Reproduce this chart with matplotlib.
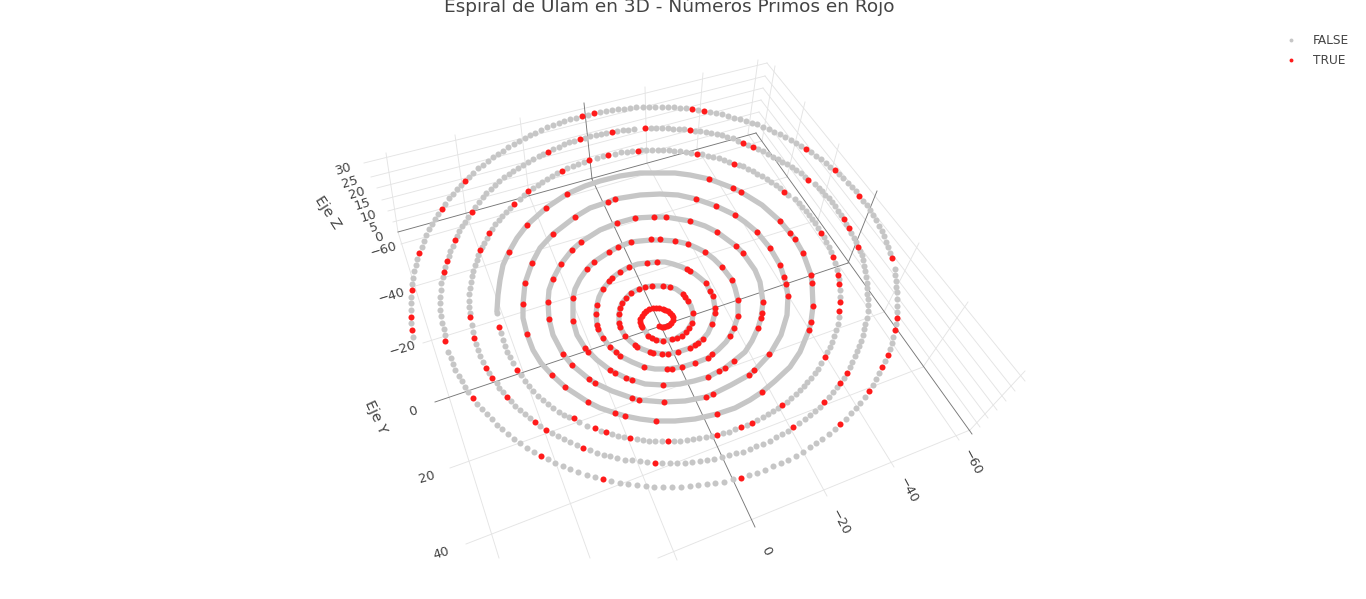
import numpy as np
import matplotlib
matplotlib.use("Agg")
import matplotlib.pyplot as plt
from matplotlib.lines import Line2D

plt.rcParams['font.family'] = ['DejaVu Sans']

# all values, as projected positions of the 3D view

# FALSE points, the outer turns where single dots can be seen
false_turn_c = [(497,313),(501,333),(503,340),(505,346),(507,352),(510,357),(513,363),(521,375),(525,381),(529,386),(533,391),(538,396),(543,400),(548,404),(553,408),(559,412),(564,415),(569,417),(579,422),(587,426),(601,431),(612,434),(618,436),(624,437),(637,439),(643,440),(649,441),(655,441),(662,441),(674,441),(680,441),(687,440),(693,439),(699,438),(706,437),(712,436),(723,433),(729,432),(735,429),(747,425),(757,420),(763,417),(768,414),(773,411),(778,408),(787,402),(791,398),(796,394),(800,390),(804,386),(807,382),(811,378),(815,373),(818,369),(821,363),(827,352),(830,347),(832,342),(834,336),(836,330),(838,324),(839,317),(840,297),(840,290),(839,279),(837,270),(835,263),(831,252),(829,247),(826,242),(824,237),(818,228),(815,223),(812,219),(809,215),(806,211),(802,207),(799,203),(795,199),(788,195),(780,188),(776,185),(771,182),(767,179),(762,176),(757,174),(753,171),(748,169),(743,166),(739,165),(729,162),(724,160),(719,158),(713,157),(708,156),(702,154),(691,153),(686,152),(680,151),(674,151),(669,150),(663,150),(658,150),(652,150),(646,150),(641,150),(632,151),(627,152),(621,152),(615,154),(603,156),(597,158),(584,162),(578,164),(573,166),(567,168),(557,173),(552,176),(547,179),(542,182),(538,185),(533,188),(524,195),(520,199),(510,208),(506,212),(502,216),(499,220),(495,224),(492,229),(487,238),(484,243),(482,247),(478,255),(477,260),(475,265),(473,271),(472,276),(471,282),(470,288),(469,294),(469,301),(469,307),(470,313)]
false_turn_b = [(472,325),(473,332),(476,344),(478,350),(480,356),(483,362),(489,373),(497,383),(499,388),(503,392),(511,401),(515,406),(520,410),(525,414),(530,418),(540,426),(552,433),(558,436),(564,439),(570,442),(577,445),(590,450),(597,453),(604,455),(610,456),(617,458),(625,460),(632,460),(640,461),(647,462),(662,463),(670,463),(677,463),(685,463),(692,462),(700,461),(707,460),(714,459),(722,457),(729,455),(736,453),(743,452),(750,449),(756,446),(763,444),(770,441),(776,437),(782,434),(788,431),(799,423),(805,419),(810,415),(815,411),(820,407),(829,397),(833,392),(837,387),(844,378),(850,367),(852,362),(855,356),(857,351),(859,346),(861,341),(863,335),(864,329),(865,324),(867,318),(868,311),(868,305),(868,299),(867,294),(867,288),(867,283),(866,277),(865,271),(864,266),(863,260),(862,255),(860,251),(856,242),(854,238),(851,233),(846,224),(841,215),(838,211),(835,206),(832,202),(829,198),(825,195),(822,191),(819,188),(815,184),(805,177),(801,173),(796,170),(792,167),(787,164),(782,162),(778,159),(773,157),(768,154),(763,151),(758,149),(748,145),(738,141),(733,138),(727,137),(722,135),(717,134),(711,133),(706,132),(700,131),(695,131),(684,129),(679,129),(673,129),(668,128),(662,128),(656,128),(651,128),(634,129),(628,130),(623,130),(617,131),(606,133),(601,134),(596,135),(590,136),(585,138),(574,141),(569,142),(564,144),(559,147),(553,149),(543,154),(539,156),(533,159),(528,162),(523,165),(518,168),(513,171),(509,174),(504,177),(499,181),(495,185),(491,189),(486,193),(483,197),(479,202),(475,207),(468,217),(465,222),(462,226),(459,231),(457,236),(453,246),(450,251),(449,256),(445,267),(443,277),(441,283),(441,290),(440,297),(440,303)]
false_turn_a = [(440,310),(441,316),(442,323),(444,329),(445,335),(448,352),(451,358),(453,364),(455,370),(459,376),(462,381),(465,387),(468,392),(477,404),(482,409),(487,414),(492,419),(497,425),(502,429),(508,434),(514,439),(520,443),(527,448),(534,452),(548,459),(555,463),(563,466),(570,469),(578,472),(587,475),(595,477),(611,481),(620,483),(628,484),(637,485),(646,486),(654,487),(663,487),(672,487),(681,487),(690,486),(698,485),(707,484),(715,483),(724,482),(733,479),(749,475),(757,473),(765,470),(773,466),(781,463),(788,460),(796,456),(803,452),(810,447),(816,443),(822,439),(829,434),(835,429),(846,419),(851,413),(856,408),(860,403),(865,397),(873,385),(876,379),(879,373),(885,361),(890,349),(892,343),(893,337),(896,324),(897,312),(897,306),(897,299),(897,292),(896,287),(896,281),(895,275),(895,269),(890,253),(888,247),(886,242),(884,236),(882,231),(879,226),(876,220),(873,215),(870,210),(867,205),(863,201),(856,191),(852,187),(848,183),(843,178),(839,174),(830,167),(826,163),(821,159),(816,156),(811,152),(801,146),(796,143),(791,140),(785,137),(780,134),(774,132),(769,129),(763,127),(757,124),(752,123),(746,121),(740,119),(734,118),(728,116),(722,114),(716,113),(710,112),(698,110),(686,108),(680,108),(674,107),(668,107),(662,107),(655,107),(649,107),(643,107),(636,107),(630,108),(624,109),(618,109),(612,110),(606,111),(600,112),(588,115),(576,118),(570,119),(564,121),(559,123),(553,125),(547,127),(541,130),(535,133),(530,135),(525,138),(519,141),(514,144),(508,147),(503,151),(498,154),(493,157),(488,161),(483,165),(478,168),(473,173),(469,177),(461,185),(457,189),(453,194),(449,198),(445,204),(438,214),(435,219),(432,224),(429,229),(426,235),(424,241),(422,247),(417,259),(416,265),(414,271),(413,278),(412,284),(411,297),(411,303),(411,310),(411,323),(413,337)]

# FALSE points of the inner turns, so close together they make one band
false_inner = [(642,327),(646,332),(648,336),(652,338),(656,340),(663,341),(675,339),(686,332),(692,323),(693,313),(691,306),(688,301),(683,294),(676,289),(670,287),(663,286),(652,286),(645,287),(639,289),(631,293),(626,298),(622,303),(620,308),(619,314),(619,323),(620,327),(625,336),(630,341),(635,345),(642,349),(650,352),(662,354),(668,354),(678,352),(690,348),(698,343),(703,339),(708,333),(712,324),(715,313),(715,308),(713,296),(710,291),(706,283),(700,278),(695,274),(690,271),(682,267),(673,264),(665,262),(657,262),(647,263),(638,264),(629,267),(620,272),(612,278),(603,289),(599,297),(597,305),(596,314),(597,325),(598,329),(603,338),(610,347),(616,352),(620,356),(632,362),(644,367),(655,369),(667,369),(682,367),(695,363),(708,358),(718,350),(726,342),(730,336),(734,328),(738,316),(738,300),(735,288),(732,280),(722,267),(714,259),(705,252),(697,248),(688,244),(675,241),(660,240),(651,240),(640,241),(631,242),(618,247),(609,252),(594,262),(587,269),(580,279),(575,289),(573,298),(573,310),(573,321),(577,335),(585,348),(597,360),(610,370),(626,378),(645,384),(663,385),(680,384),(694,381),(708,377),(725,368),(734,361),(745,352),(752,341),(758,328),(761,318),(763,302),(760,282),(755,270),(743,253),(736,246),(717,232),(705,226),(690,221),(666,217),(654,217),(635,218),(617,223),(600,230),(581,242),(572,250),(561,264),(553,279),(549,290),(548,302),(549,319),(553,335),(563,354),(572,365),(589,379),(595,383),(612,391),(632,398),(639,400),(664,402),(685,401),(706,397),(713,394),(731,385),(749,375),(755,370),(770,354),(781,335),(787,315),(788,296),(786,284),(784,277),(780,265),(770,248),(757,232),(745,222),(735,215),(716,206),(696,199),(678,195),(660,194),(640,195),(615,199),(608,202),(590,208),(575,217),(553,234),(540,248),(532,263),(525,283),(523,304),(523,318),(527,334),(533,350),(541,363),(552,375),(565,387),(588,402),(600,408),(615,413),(625,416),(640,419),(656,421),(675,421),(695,419),(717,414),(735,408),(750,400),(762,392),(775,381),(790,367),(800,352),(809,330),(811,322),(813,306),(812,283),(811,275),(803,253),(795,239),(790,233),(780,221),(762,205),(741,192),(733,188),(709,179),(690,175),(675,173),(660,173),(640,173),(620,176),(600,181),(585,186),(567,194),(546,208),(527,225),(517,238),(509,252),(503,265),(500,280),(498,295),(497,310)]

# TRUE points
true_center = [(659,326),(662,327),(664,327),(667,326),(669,325),(671,323),(673,320),(673,317),(672,315),(670,313),(668,311),(665,310),(663,309),(659,308),(656,308),(653,308),(649,309),(646,311),(644,313),(642,316),(640,319),(640,322),(641,325),(642,327)]
true_middle = [(648,336),(652,338),(656,340),(663,341),(672,339),(677,338),(682,336),(686,332),(689,328),(692,323),(693,313),(688,301),(685,297),(683,294),(670,287),(663,286),(652,286),(645,287),(639,289),(631,293),(626,298),(622,303),(620,308),(619,314),(619,323),(620,327),(625,336),(635,345),(637,347),(650,352),(653,353),(662,354),(668,354),(678,352),(690,348),(695,345),(698,343),(703,339),(712,324),(715,313),(715,308),(713,296),(710,291),(706,283),(690,271),(687,269),(657,262),(647,263),(629,267),(620,272),(612,278),(609,281),(603,289),(597,305),(596,314),(597,325),(598,329),(603,338),(610,347),(616,352),(620,356),(644,367),(667,369),(672,369),(682,367),(695,363),(708,358),(712,354),(730,336),(734,328),(738,316),(738,300),(732,280),(722,267),(705,252),(688,244),(675,241),(660,239),(651,239),(631,242),(618,247),(609,252),(594,262),(587,269),(573,298),(573,321),(585,348),(588,352),(610,370),(615,373),(626,378),(632,380),(663,385),(708,377),(719,371),(725,368),(734,361),(758,328),(761,318),(762,313),(763,302),(743,253),(736,246),(717,232),(690,221),(666,217),(654,217),(635,218),(617,223),(581,242),(572,250),(561,264),(553,279),(548,302),(549,319),(563,354),(572,365),(589,379),(595,383),(632,398),(639,400),(664,402),(706,397),(713,394),(749,375),(754,370),(762,392),(769,354),(780,265),(770,248),(757,232),(735,215),(575,217),(553,234),(552,375),(565,387),(588,402)]
true_outer = [(582,116),(594,113),(465,181),(442,209),(419,253),(412,290),(411,317),(580,139),(612,132),(548,152),(472,212),(455,240),(447,261),(444,272),(470,317),(589,160),(608,155),(638,151),(562,171),(528,191),(514,204),(489,233),(480,250),(509,252),(532,263),(525,283),(523,304),(567,194),(546,208),(527,225),(608,202),(615,199),(692,109),(704,111),(806,149),(835,170),(859,196),(892,258),(897,318),(645,128),(690,130),(743,143),(753,147),(808,180),(844,219),(849,228),(858,247),(697,154),(734,164),(784,192),(821,233),(833,257),(838,275),(839,284),(840,302),(839,311),(709,179),(733,188),(741,192),(780,221),(790,233),(795,239),(803,253),(811,275),(812,283),(813,306),(696,199),(716,206),(784,277),(786,284),(788,296),(895,330),(888,355),(882,367),(869,391),(840,424),(741,478),(811,322),(809,330),(825,357),(847,373),(840,383),(824,402),(793,427),(782,405),(717,414),(752,423),(741,427),(717,435),(412,330),(445,341),(474,338),(486,368),(492,378),(473,398),(507,397),(499,327),(527,334),(517,370),(535,422),(546,430),(541,456),(603,479),(583,448),(655,463),(574,418),(595,428),(606,432),(630,438),(668,441),(615,413),(625,416),(656,421)]

# box edges and zero lines
dark_lines = [((398,232),(756,133)),((756,133),(972,434)),((584,103),(592,179)),((592,179),(755,527)),((435,402),(848,263)),((848,263),(877,191))]

# grid on the floor and the two walls
floor_x_lines = [((398,232),(499,558)),((466,213),(590,558)),((529,195),(677,560)),((647,163),(827,496)),((697,148),(894,467)),((748,134),(959,440))]
floor_y_lines = [((762,141),(401,244)),((787,177),(412,287)),((818,220),(423,343)),((884,312),(450,468)),((923,367),(466,544)),((970,430),(658,558))]
back_wall_x = [((386,153),(398,232)),((455,135),(466,213)),((520,118),(529,195)),((645,87),(647,163)),((703,73),(697,148)),((758,60),(748,134))]
side_wall_y = [((775,66),(762,141)),((805,102),(787,177)),((839,144),(818,220)),((919,243),(884,312)),((968,302),(923,367)),((1025,371),(970,430))]
z_left = [(364,163),(371,177),(377,188),(382,200),(388,211),(393,222)]
z_corner = [(767,63),(765,76),(763,88),(761,100),(759,112),(757,123)]
z_right = [(1025,381),(1015,391),(1006,401),(997,410),(988,418),(980,427)]

x_ticks = [('\u221260',(972,462)),('\u221240',(908,490)),('\u221220',(840,522)),('0',(766,551))]
y_ticks = [('\u221260',(384,250)),('\u221240',(392,296)),('\u221220',(403,349)),('0',(413,411)),('20',(427,477)),('40',(441,553))]
z_ticks = [('30',(343,169)),('25',(350,182)),('20',(357,193)),('15',(362,204)),('10',(368,216)),('5',(374,227)),('0',(379,237))]

GREY = '#c6c6c6'
RED = '#ff1a1a'
DOT = 19

fig = plt.figure(figsize=(13.66, 5.99), dpi=100)
ax = fig.add_axes([0, 0, 1, 1])
ax.set_xlim(0, 1366)
ax.set_ylim(599, 0)
ax.axis('off')

# grid
light = floor_x_lines + floor_y_lines + back_wall_x + side_wall_y
light += list(zip(z_left, z_corner)) + list(zip(z_corner, z_right))
for a, b in light:
    ax.plot([a[0], b[0]], [a[1], b[1]], color='#e4e4e4', lw=0.65, zorder=1)
for a, b in dark_lines:
    ax.plot([a[0], b[0]], [a[1], b[1]], color='#777777', lw=0.65, zorder=2)

# FALSE
inner = np.array(false_inner)
ax.plot(inner[:, 0], inner[:, 1], color=GREY, lw=3.8, zorder=3, solid_joinstyle='round')
for turn in [false_turn_a, false_turn_b, false_turn_c]:
    pts = np.array(turn)
    ax.scatter(pts[:, 0], pts[:, 1], s=DOT, color=GREY, linewidths=0, zorder=3)

# TRUE
for part in [true_center, true_middle, true_outer]:
    pts = np.array(part)
    ax.scatter(pts[:, 0], pts[:, 1], s=DOT, color=RED, linewidths=0, zorder=4)

# tick labels
for label, pos in x_ticks:
    ax.text(pos[0], pos[1], label, rotation=-62, ha='center', va='center', fontsize=9.4, color='#444444')
for label, pos in y_ticks:
    ax.text(pos[0], pos[1], label, rotation=17, ha='center', va='center', fontsize=9.4, color='#444444')
for label, pos in z_ticks:
    ax.text(pos[0], pos[1], label, rotation=17, ha='center', va='center', fontsize=9.4, color='#444444')

ax.text(328, 212, 'Eje Z', rotation=-57, ha='center', va='center', fontsize=10.4, color='#444444')
ax.text(376, 417, 'Eje Y', rotation=-65, ha='center', va='center', fontsize=10.4, color='#444444')

ax.text(669, 7, 'Espiral de Ulam en 3D - N\u00fameros Primos en Rojo', ha='center', va='center', fontsize=13.3, color='#444444')

handles = [Line2D([], [], ls='', marker='o', ms=2.8, mew=0, color=GREY, label='FALSE'),
           Line2D([], [], ls='', marker='o', ms=2.8, mew=0, color=RED, label='TRUE')]
leg = ax.legend(handles=handles, frameon=False, loc='upper left', bbox_to_anchor=(1279 / 1366, 1 - 34 / 599),
                fontsize=8.7, labelcolor='#444444', handletextpad=0.8, labelspacing=0.62, borderaxespad=0, borderpad=0)

fig.savefig('out.png', dpi=100)
